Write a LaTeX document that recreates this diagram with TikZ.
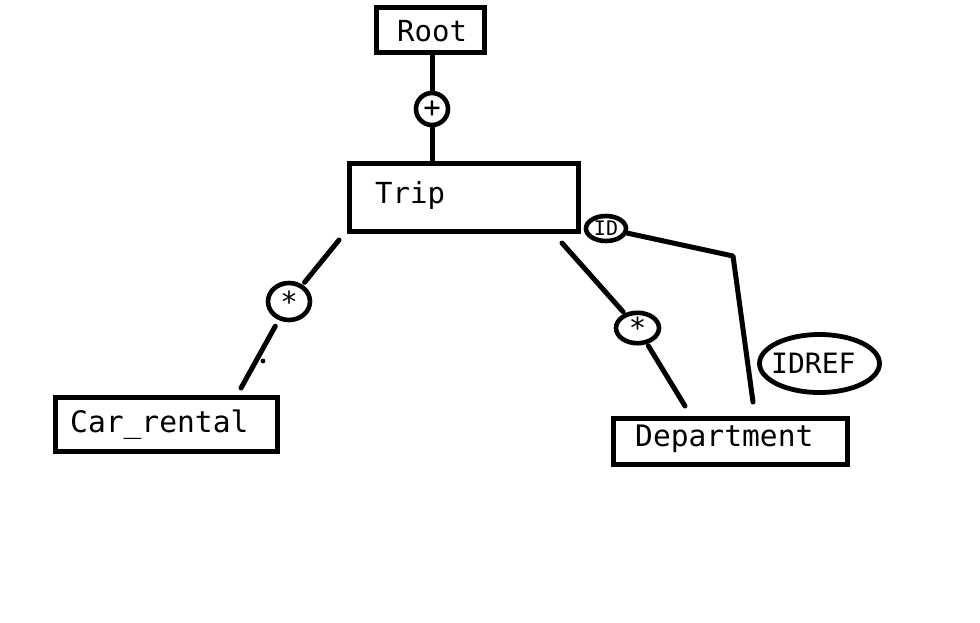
\documentclass[tikz,border=0pt]{standalone}
\usepackage{fontspec}
\newfontfamily\mono{DejaVu Sans Mono}
\usetikzlibrary{shapes.geometric}
\begin{document}
\begin{tikzpicture}[x=1pt,y=-1pt,
  box/.style={draw, line width=5pt, inner sep=0pt},
  lbl/.style={font=\mono\fontsize{29}{30}\selectfont, inner sep=0pt, anchor=base west},
  oval/.style={draw, ellipse, line width=4.6pt, inner sep=0pt, font=\mono\fontsize{29}{30}\selectfont},
  conn/.style={line width=5pt, line cap=round}]
\useasboundingbox[fill=white] (0,0) rectangle (980,622);
% boxes
\node[box, minimum width=108pt, minimum height=45pt] (root) at (430,29.5) {};
\node[box, minimum width=229pt, minimum height=67.5pt] (trip) at (463.5,197.25) {};
\node[box, minimum width=222pt, minimum height=54pt] (car) at (166,424) {};
\node[box, minimum width=234pt, minimum height=46pt] (dept) at (730,441) {};
% labels
\node[lbl] (rootT) at (397,41) {Root};
\node[lbl] (tripT) at (375,203) {Trip};
\node[lbl, font=\mono\fontsize{29.6}{30}\selectfont] (carT) at (70,432) {Car\_rental};
\node[lbl, font=\mono\fontsize{29.6}{30}\selectfont] (deptT) at (635,446) {Department};
% occurrence ovals
\node[oval, circle, minimum size=32pt] (plus) at (432,109) {+};
\node[oval, minimum width=42pt, minimum height=37pt] (starL) at (289,301.5) {*};
\node[oval, minimum width=43pt, minimum height=28pt] (starR) at (637.5,328) {*};
\node[oval, minimum width=40pt, minimum height=25pt, font=\mono\fontsize{20}{21}\selectfont] (id) at (606,228.5) {ID};
\draw[line width=4.8pt] (819.5,363.5) ellipse [x radius=60, y radius=29];
\node[lbl, font=\mono\fontsize{28}{30}\selectfont] (idrefT) at (771,373) {IDREF};
% free ends
\coordinate (cTL) at (339,240);
\coordinate (cBL) at (241,388);
\coordinate (cTR) at (562,243);
\coordinate (cBR) at (685,406);
\coordinate (cK) at (733,256);
\coordinate (cD) at (753,402);
% connectors
\draw[conn] (plus) -- (plus |- root.south);
\draw[conn] (plus) -- (plus |- trip.north);
\draw[conn, shorten >=3pt] (cTL) -- (starL);
\draw[conn, shorten <=7pt] (starL) -- (cBL);
\draw[conn, shorten >=2pt] (cTR) -- (starR);
\draw[conn, shorten <=2pt] (starR) -- (cBR);
\draw[conn, line join=round] (id) -- (cK) -- (cD);
\fill (263,361) circle [radius=2.4];
\end{tikzpicture}
\end{document}
